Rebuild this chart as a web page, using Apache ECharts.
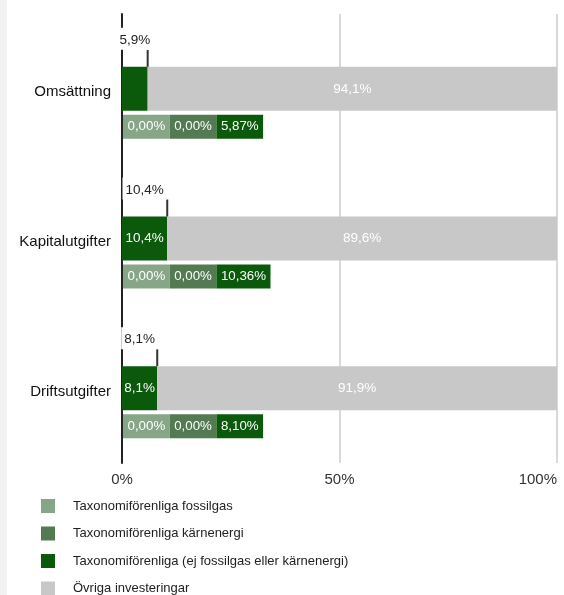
<!DOCTYPE html>
<html>
<head>
<meta charset="utf-8">
<script src="https://cdn.jsdelivr.net/npm/echarts@6/dist/echarts.min.js"></script>
<style>
html,body{margin:0;padding:0;background:#fff;overflow:hidden;}
#c{width:564px;height:595px;}
</style>
</head>
<body>
<div id="c"></div>
<script>
const categories = ['Omsättning', 'Kapitalutgifter', 'Driftsutgifter'];
const alignedVals = [5.9, 10.4, 8.1];
const otherVals = [94.1, 89.6, 91.9];
const fossilVals = [0.00, 0.00, 0.00];
const nuclearVals = [0.00, 0.00, 0.00];
const pureVals = [5.87, 10.36, 8.10];
const xTicks = [0, 50, 100];

const names = {
  fossil: 'Taxonomiförenliga fossilgas',
  nuclear: 'Taxonomiförenliga kärnenergi',
  pure: 'Taxonomiförenliga (ej fossilgas eller kärnenergi)',
  other: 'Övriga investeringar'
};
const colors = {
  fossil: '#87a587',
  nuclear: '#537a53',
  pure: '#0b5a0b',
  other: '#c8c8c8'
};
const FONT = 'Liberation Sans, Arial, sans-serif';
const fmt1 = v => v.toFixed(1).replace('.', ',') + '%';
const fmt2 = v => v.toFixed(2).replace('.', ',') + '%';

const chart = echarts.init(document.getElementById('c'), null, {renderer: 'canvas'});

const boxStyle = (bg) => ({
  backgroundColor: bg, color: '#fff', fontSize: 13.3, fontFamily: FONT,
  height: 24, lineHeight: 24, padding: [0, 4.5]
});

chart.setOption({
  animation: false,
  textStyle: {fontFamily: FONT},
  graphic: [{
    type: 'rect', left: 0, top: 0, z: -10,
    shape: {width: 7, height: 595}, style: {fill: '#f2f2f2'}
  }],
  grid: {left: 122, right: 7, top: 14, bottom: 132, containLabel: false, outerBoundsMode: 'none'},
  legend: {
    orient: 'vertical', left: 41, top: 499, height: 120, padding: 0,
    itemWidth: 14, itemHeight: 14, itemGap: 13.5,
    icon: 'rect',
    data: [names.fossil, names.nuclear, names.pure, names.other],
    textStyle: {fontSize: 13, color: '#222', fontFamily: FONT, padding: [0, 0, 0, 13]}
  },
  xAxis: {
    type: 'value', min: xTicks[0], max: xTicks[xTicks.length - 1], interval: 50,
    axisLine: {show: false}, axisTick: {show: false},
    axisLabel: {formatter: '{value}%', color: '#333', fontSize: 15, margin: 9, fontFamily: FONT,
      alignMaxLabel: 'right'},
    splitLine: {show: true, lineStyle: {color: '#d9d9d9', width: 2}}
  },
  yAxis: {
    type: 'category', data: categories, inverse: true,
    axisTick: {show: false},
    axisLine: {show: true, lineStyle: {color: '#222', width: 2}},
    axisLabel: {color: '#111', fontSize: 15, margin: 11, fontFamily: FONT,
      verticalAlign: 'top', lineHeight: 7},
    splitLine: {show: false}
  },
  series: [
    {name: names.fossil, type: 'bar', stack: 'a', barWidth: 44, data: fossilVals.map(() => 0),
      itemStyle: {color: colors.fossil}, silent: true},
    {name: names.nuclear, type: 'bar', stack: 'a', barWidth: 44, data: nuclearVals.map(() => 0),
      itemStyle: {color: colors.nuclear}, silent: true},
    {name: names.pure, type: 'bar', stack: 'a', barWidth: 44, data: alignedVals,
      itemStyle: {color: colors.pure},
      label: {show: true, position: 'inside', color: '#fff', fontSize: 13.5, fontFamily: FONT,
        formatter: p => p.value >= 7 ? fmt1(p.value) : ''}},
    {name: names.other, type: 'bar', stack: 'a', barWidth: 44, data: otherVals,
      itemStyle: {color: colors.other},
      label: {show: true, position: 'inside', color: '#fff', fontSize: 13.5, fontFamily: FONT,
        formatter: p => fmt1(p.value)}},
    {name: 'topLabels', type: 'bar', barWidth: 44, barGap: '-100%', data: alignedVals,
      itemStyle: {color: 'rgba(0,0,0,0)'}, silent: true, z: 5,
      label: {show: true, position: 'top', distance: 17, color: '#222', fontSize: 13.5, fontFamily: FONT,
        backgroundColor: '#fff', padding: [5, 3, 2, 3], lineHeight: 15,
        formatter: p => fmt1(p.value)}},
    {name: 'ticks', type: 'scatter', silent: true, z: 4,
      data: alignedVals.map((v, i) => [v, categories[i]]),
      symbol: 'rect', symbolSize: [2, 17], symbolOffset: [0, -30.5],
      itemStyle: {color: '#333', opacity: 1}},
    {name: 'breakdown', type: 'scatter', silent: true, z: 6,
      data: pureVals.map((v, i) => [0, categories[i]]),
      symbolSize: 0,
      itemStyle: {opacity: 1},
      label: {show: true, position: 'right', distance: 1, offset: [0, 38],
        formatter: p => {
          const i = p.dataIndex;
          return '{a|' + fmt2(fossilVals[i]) + '}{b|' + fmt2(nuclearVals[i]) + '}{c|' + fmt2(pureVals[i]) + '}';
        },
        rich: {a: boxStyle(colors.fossil), b: boxStyle(colors.nuclear), c: boxStyle(colors.pure)}
      }}
  ]
});
</script>
</body>
</html>
